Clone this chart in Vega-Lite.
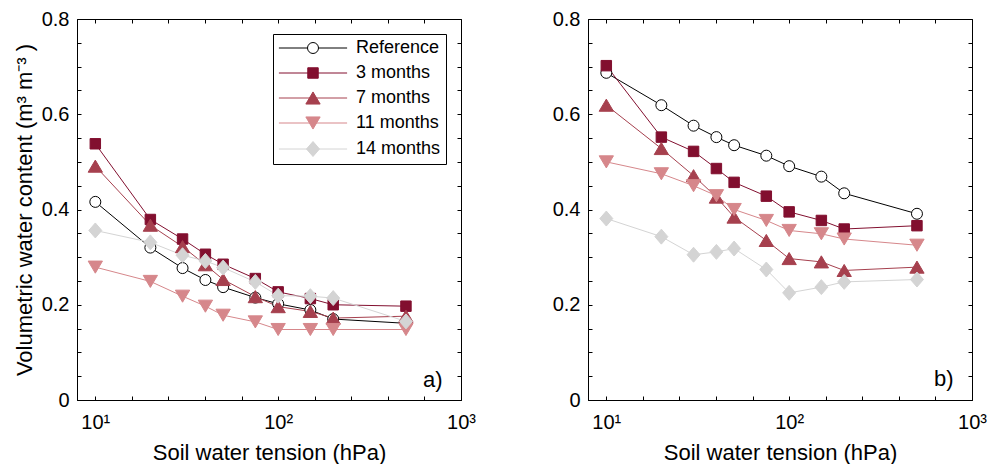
{
  "$schema": "https://vega.github.io/schema/vega-lite/v6.json",
  "background": "white",
  "padding": {"left": 12, "top": 8, "right": 0, "bottom": 0},
  "config": {
    "view": {"stroke": "black", "strokeWidth": 1},
    "font": "Liberation Sans",
    "axis": {"grid": false, "domainColor": "black", "tickColor": "black", "labelColor": "black", "titleColor": "black", "labelFont": "Liberation Sans", "titleFont": "Liberation Sans", "labelFontSize": 20, "titleFontSize": 22, "titleFontWeight": "normal", "tickSize": -4, "tickWidth": 1, "domainWidth": 1, "labelOverlap": false, "labelFlush": false},
    "legend": {"orient": "top-right", "offset": 15, "fillColor": "white", "strokeColor": "black", "padding": 5, "labelFontSize": 18, "labelFont": "Liberation Sans", "labelColor": "black", "symbolSize": 121, "symbolOffset": 26, "labelOffset": 34, "rowPadding": 7, "symbolStrokeWidth": 1, "symbolOpacity": 1}
  },
  "datasets": {
    "a": [
      {"series": "Reference", "tension": 10, "theta": 0.416}, {"series": "Reference", "tension": 20, "theta": 0.320}, {"series": "Reference", "tension": 30, "theta": 0.277}, {"series": "Reference", "tension": 40, "theta": 0.252}, {"series": "Reference", "tension": 50, "theta": 0.237}, {"series": "Reference", "tension": 75, "theta": 0.215}, {"series": "Reference", "tension": 100, "theta": 0.202}, {"series": "Reference", "tension": 150, "theta": 0.189}, {"series": "Reference", "tension": 200, "theta": 0.170}, {"series": "Reference", "tension": 500, "theta": 0.161},
      {"series": "3 months", "tension": 10, "theta": 0.538}, {"series": "3 months", "tension": 20, "theta": 0.379}, {"series": "3 months", "tension": 30, "theta": 0.338}, {"series": "3 months", "tension": 40, "theta": 0.306}, {"series": "3 months", "tension": 50, "theta": 0.285}, {"series": "3 months", "tension": 75, "theta": 0.255}, {"series": "3 months", "tension": 100, "theta": 0.227}, {"series": "3 months", "tension": 150, "theta": 0.213}, {"series": "3 months", "tension": 200, "theta": 0.200}, {"series": "3 months", "tension": 500, "theta": 0.197},
      {"series": "7 months", "tension": 10, "theta": 0.491}, {"series": "7 months", "tension": 20, "theta": 0.367}, {"series": "7 months", "tension": 30, "theta": 0.322}, {"series": "7 months", "tension": 40, "theta": 0.284}, {"series": "7 months", "tension": 50, "theta": 0.253}, {"series": "7 months", "tension": 75, "theta": 0.217}, {"series": "7 months", "tension": 100, "theta": 0.196}, {"series": "7 months", "tension": 150, "theta": 0.186}, {"series": "7 months", "tension": 200, "theta": 0.172}, {"series": "7 months", "tension": 500, "theta": 0.176},
      {"series": "11 months", "tension": 10, "theta": 0.279}, {"series": "11 months", "tension": 20, "theta": 0.249}, {"series": "11 months", "tension": 30, "theta": 0.218}, {"series": "11 months", "tension": 40, "theta": 0.197}, {"series": "11 months", "tension": 50, "theta": 0.178}, {"series": "11 months", "tension": 75, "theta": 0.164}, {"series": "11 months", "tension": 100, "theta": 0.148}, {"series": "11 months", "tension": 150, "theta": 0.148}, {"series": "11 months", "tension": 200, "theta": 0.148}, {"series": "11 months", "tension": 500, "theta": 0.148},
      {"series": "14 months", "tension": 10, "theta": 0.356}, {"series": "14 months", "tension": 20, "theta": 0.331}, {"series": "14 months", "tension": 30, "theta": 0.304}, {"series": "14 months", "tension": 40, "theta": 0.292}, {"series": "14 months", "tension": 50, "theta": 0.278}, {"series": "14 months", "tension": 75, "theta": 0.248}, {"series": "14 months", "tension": 100, "theta": 0.219}, {"series": "14 months", "tension": 150, "theta": 0.218}, {"series": "14 months", "tension": 200, "theta": 0.214}, {"series": "14 months", "tension": 500, "theta": 0.165}
    ],
    "b": [
      {"series": "Reference", "tension": 10, "theta": 0.687}, {"series": "Reference", "tension": 20, "theta": 0.619}, {"series": "Reference", "tension": 30, "theta": 0.576}, {"series": "Reference", "tension": 40, "theta": 0.552}, {"series": "Reference", "tension": 50, "theta": 0.535}, {"series": "Reference", "tension": 75, "theta": 0.513}, {"series": "Reference", "tension": 100, "theta": 0.491}, {"series": "Reference", "tension": 150, "theta": 0.469}, {"series": "Reference", "tension": 200, "theta": 0.434}, {"series": "Reference", "tension": 500, "theta": 0.391},
      {"series": "3 months", "tension": 10, "theta": 0.702}, {"series": "3 months", "tension": 20, "theta": 0.552}, {"series": "3 months", "tension": 30, "theta": 0.522}, {"series": "3 months", "tension": 40, "theta": 0.486}, {"series": "3 months", "tension": 50, "theta": 0.457}, {"series": "3 months", "tension": 75, "theta": 0.428}, {"series": "3 months", "tension": 100, "theta": 0.395}, {"series": "3 months", "tension": 150, "theta": 0.377}, {"series": "3 months", "tension": 200, "theta": 0.359}, {"series": "3 months", "tension": 500, "theta": 0.366},
      {"series": "7 months", "tension": 10, "theta": 0.619}, {"series": "7 months", "tension": 20, "theta": 0.528}, {"series": "7 months", "tension": 30, "theta": 0.471}, {"series": "7 months", "tension": 40, "theta": 0.426}, {"series": "7 months", "tension": 50, "theta": 0.384}, {"series": "7 months", "tension": 75, "theta": 0.335}, {"series": "7 months", "tension": 100, "theta": 0.297}, {"series": "7 months", "tension": 150, "theta": 0.290}, {"series": "7 months", "tension": 200, "theta": 0.272}, {"series": "7 months", "tension": 500, "theta": 0.279},
      {"series": "11 months", "tension": 10, "theta": 0.500}, {"series": "11 months", "tension": 20, "theta": 0.475}, {"series": "11 months", "tension": 30, "theta": 0.450}, {"series": "11 months", "tension": 40, "theta": 0.429}, {"series": "11 months", "tension": 50, "theta": 0.400}, {"series": "11 months", "tension": 75, "theta": 0.377}, {"series": "11 months", "tension": 100, "theta": 0.356}, {"series": "11 months", "tension": 150, "theta": 0.349}, {"series": "11 months", "tension": 200, "theta": 0.338}, {"series": "11 months", "tension": 500, "theta": 0.325},
      {"series": "14 months", "tension": 10, "theta": 0.381}, {"series": "14 months", "tension": 20, "theta": 0.343}, {"series": "14 months", "tension": 30, "theta": 0.305}, {"series": "14 months", "tension": 40, "theta": 0.311}, {"series": "14 months", "tension": 50, "theta": 0.318}, {"series": "14 months", "tension": 75, "theta": 0.274}, {"series": "14 months", "tension": 100, "theta": 0.225}, {"series": "14 months", "tension": 150, "theta": 0.237}, {"series": "14 months", "tension": 200, "theta": 0.248}, {"series": "14 months", "tension": 500, "theta": 0.253}
    ]
  },
  "spacing": 75,
  "resolve": {"scale": {"color": "independent", "fill": "independent", "stroke": "independent", "shape": "independent"}, "legend": {"color": "independent", "fill": "independent", "stroke": "independent", "shape": "independent"}},
  "hconcat": [
    {
      "width": 384, "height": 381,
      "data": {"name": "a"},
      "resolve": {"axis": {"x": "independent", "y": "independent"}, "scale": {"shape": "independent", "fill": "independent", "stroke": "independent"}, "legend": {"shape": "independent", "fill": "independent", "stroke": "independent"}},
      "layer": [
        {
          "mark": {"type": "line", "strokeWidth": 1},
          "encoding": {
            "x": {"field": "tension", "type": "quantitative", "scale": {"type": "log", "domain": [7.94, 1000], "nice": false},
              "axis": {"orient": "bottom", "values": [10, 15.849, 25.119, 39.811, 63.096, 100, 158.49, 251.19, 398.11, 630.96, 1000], "labelExpr": "datum.value == 10 ? '10¹' : datum.value == 100 ? '10²' : datum.value == 1000 ? '10³' : ''", "labelPadding": 16, "title": "Soil water tension (hPa)", "titlePadding": 10}},
            "y": {"field": "theta", "type": "quantitative", "scale": {"domain": [0, 0.8], "nice": false, "zero": false},
              "axis": {"orient": "left", "values": [0, 0.05, 0.1, 0.15, 0.2, 0.25, 0.3, 0.35, 0.4, 0.45, 0.5, 0.55, 0.6, 0.65, 0.7, 0.75, 0.8], "labelExpr": "abs(datum.value*5 - round(datum.value*5)) < 0.001 ? (datum.value == 0 ? '0' : format(datum.value, '.1f')) : ''", "labelPadding": 12, "title": "Volumetric water content (m³ m⁻³ )", "titlePadding": 5}},
            "color": {"field": "series", "type": "nominal", "scale": {"domain": ["Reference", "3 months", "7 months", "11 months", "14 months"], "range": ["#000000", "#820F2F", "#A6404E", "#D6878B", "#D4D4D4"]}, "legend": null}
          }
        },
        {
          "mark": {"type": "point", "size": 121, "strokeWidth": 1, "opacity": 1, "fillOpacity": 1},
          "encoding": {
            "x": {"field": "tension", "type": "quantitative", "axis": null},
            "y": {"field": "theta", "type": "quantitative", "axis": null},
            "shape": {"field": "series", "type": "nominal", "scale": {"domain": ["Reference", "3 months", "7 months", "11 months", "14 months"], "range": ["M1,0A1,1,0,1,1,-1,0A1,1,0,1,1,1,0Z", "M-0.95,-0.95L0.95,-0.95L0.95,0.95L-0.95,0.95Z", "M0,-1.1L1.3,1.1L-1.3,1.1Z", "M0,1.1L1.3,-1.1L-1.3,-1.1Z", "M0,-1.36L1.18,0L0,1.36L-1.18,0Z"]}, "legend": null},
            "fill": {"field": "series", "type": "nominal", "scale": {"domain": ["Reference", "3 months", "7 months", "11 months", "14 months"], "range": ["#FFFFFF", "#820F2F", "#A6404E", "#D6878B", "#D4D4D4"]}, "legend": null},
            "stroke": {"field": "series", "type": "nominal", "scale": {"domain": ["Reference", "3 months", "7 months", "11 months", "14 months"], "range": ["#000000", "#820F2F", "#A6404E", "#D6878B", "#D4D4D4"]}, "legend": null}
          }
        },
        {
          "transform": [{"filter": "datum.tension < 0"}],
          "mark": {"type": "point", "size": 121, "strokeWidth": 1, "opacity": 1, "fillOpacity": 1, "strokeOpacity": 1},
          "encoding": {
            "x": {"field": "tension", "type": "quantitative", "axis": null},
            "y": {"field": "theta", "type": "quantitative", "axis": null},
            "shape": {"field": "series", "type": "nominal", "scale": {"domain": ["Reference", "3 months", "7 months", "11 months", "14 months"], "range": ["M-6.2,0L-1,0M1,0L6.2,0M1,0A1,1,0,1,1,-1,0A1,1,0,1,1,1,0Z", "M-6.2,0L6.2,0M-0.95,-0.95L0.95,-0.95L0.95,0.95L-0.95,0.95Z", "M-6.2,0L6.2,0M0,-1.1L1.3,1.1L-1.3,1.1Z", "M-6.2,0L6.2,0M0,1.1L1.3,-1.1L-1.3,-1.1Z", "M-6.2,0L6.2,0M0,-1.36L1.18,0L0,1.36L-1.18,0Z"]}, "legend": {"title": null}},
            "fill": {"field": "series", "type": "nominal", "scale": {"domain": ["Reference", "3 months", "7 months", "11 months", "14 months"], "range": ["#FFFFFF", "#820F2F", "#A6404E", "#D6878B", "#D4D4D4"]}, "legend": {"title": null}},
            "stroke": {"field": "series", "type": "nominal", "scale": {"domain": ["Reference", "3 months", "7 months", "11 months", "14 months"], "range": ["#000000", "#820F2F", "#A6404E", "#D6878B", "#D4D4D4"]}, "legend": {"title": null}}
          }
        },
        {
          "mark": {"type": "point", "opacity": 0},
          "encoding": {
            "x": {"field": "tension", "type": "quantitative", "axis": {"orient": "top", "values": [10, 15.849, 25.119, 39.811, 63.096, 100, 158.49, 251.19, 398.11, 630.96, 1000], "labels": false, "domain": false, "title": null}},
            "y": {"field": "theta", "type": "quantitative", "axis": {"orient": "right", "values": [0, 0.05, 0.1, 0.15, 0.2, 0.25, 0.3, 0.35, 0.4, 0.45, 0.5, 0.55, 0.6, 0.65, 0.7, 0.75, 0.8], "labels": false, "domain": false, "title": null}}
          }
        },
        {
          "transform": [{"filter": "datum.series === 'Reference' && datum.tension === 10"}],
          "mark": {"type": "text", "fontSize": 22, "font": "Liberation Sans", "fontWeight": "normal", "fill": "black", "align": "center", "baseline": "middle"},
          "encoding": {
            "x": {"datum": 700, "type": "quantitative", "axis": null},
            "y": {"datum": 0.042, "type": "quantitative", "axis": null},
            "text": {"value": "a)"}
          }
        }
      ]
    },
    {
      "width": 384, "height": 381,
      "data": {"name": "b"},
      "resolve": {"axis": {"x": "independent", "y": "independent"}},
      "layer": [
        {
          "mark": {"type": "line", "strokeWidth": 1},
          "encoding": {
            "x": {"field": "tension", "type": "quantitative", "scale": {"type": "log", "domain": [7.94, 1000], "nice": false},
              "axis": {"orient": "bottom", "values": [10, 15.849, 25.119, 39.811, 63.096, 100, 158.49, 251.19, 398.11, 630.96, 1000], "labelExpr": "datum.value == 10 ? '10¹' : datum.value == 100 ? '10²' : datum.value == 1000 ? '10³' : ''", "labelPadding": 16, "title": "Soil water tension (hPa)", "titlePadding": 10}},
            "y": {"field": "theta", "type": "quantitative", "scale": {"domain": [0, 0.8], "nice": false, "zero": false},
              "axis": {"orient": "left", "values": [0, 0.05, 0.1, 0.15, 0.2, 0.25, 0.3, 0.35, 0.4, 0.45, 0.5, 0.55, 0.6, 0.65, 0.7, 0.75, 0.8], "labelExpr": "abs(datum.value*5 - round(datum.value*5)) < 0.001 ? (datum.value == 0 ? '0' : format(datum.value, '.1f')) : ''", "labelPadding": 12, "title": null}},
            "color": {"field": "series", "type": "nominal", "scale": {"domain": ["Reference", "3 months", "7 months", "11 months", "14 months"], "range": ["#000000", "#820F2F", "#A6404E", "#D6878B", "#D4D4D4"]}, "legend": null}
          }
        },
        {
          "mark": {"type": "point", "size": 121, "strokeWidth": 1, "opacity": 1, "fillOpacity": 1},
          "encoding": {
            "x": {"field": "tension", "type": "quantitative", "axis": null},
            "y": {"field": "theta", "type": "quantitative", "axis": null},
            "shape": {"field": "series", "type": "nominal", "scale": {"domain": ["Reference", "3 months", "7 months", "11 months", "14 months"], "range": ["M1,0A1,1,0,1,1,-1,0A1,1,0,1,1,1,0Z", "M-0.95,-0.95L0.95,-0.95L0.95,0.95L-0.95,0.95Z", "M0,-1.1L1.3,1.1L-1.3,1.1Z", "M0,1.1L1.3,-1.1L-1.3,-1.1Z", "M0,-1.36L1.18,0L0,1.36L-1.18,0Z"]}, "legend": null},
            "fill": {"field": "series", "type": "nominal", "scale": {"domain": ["Reference", "3 months", "7 months", "11 months", "14 months"], "range": ["#FFFFFF", "#820F2F", "#A6404E", "#D6878B", "#D4D4D4"]}, "legend": null},
            "stroke": {"field": "series", "type": "nominal", "scale": {"domain": ["Reference", "3 months", "7 months", "11 months", "14 months"], "range": ["#000000", "#820F2F", "#A6404E", "#D6878B", "#D4D4D4"]}, "legend": null}
          }
        },
        {
          "mark": {"type": "point", "opacity": 0},
          "encoding": {
            "x": {"field": "tension", "type": "quantitative", "axis": {"orient": "top", "values": [10, 15.849, 25.119, 39.811, 63.096, 100, 158.49, 251.19, 398.11, 630.96, 1000], "labels": false, "domain": false, "title": null}},
            "y": {"field": "theta", "type": "quantitative", "axis": {"orient": "right", "values": [0, 0.05, 0.1, 0.15, 0.2, 0.25, 0.3, 0.35, 0.4, 0.45, 0.5, 0.55, 0.6, 0.65, 0.7, 0.75, 0.8], "labels": false, "domain": false, "title": null}}
          }
        },
        {
          "transform": [{"filter": "datum.series === 'Reference' && datum.tension === 10"}],
          "mark": {"type": "text", "fontSize": 22, "font": "Liberation Sans", "fontWeight": "normal", "fill": "black", "align": "center", "baseline": "middle"},
          "encoding": {
            "x": {"datum": 700, "type": "quantitative", "axis": null},
            "y": {"datum": 0.045, "type": "quantitative", "axis": null},
            "text": {"value": "b)"}
          }
        }
      ]
    }
  ]
}
